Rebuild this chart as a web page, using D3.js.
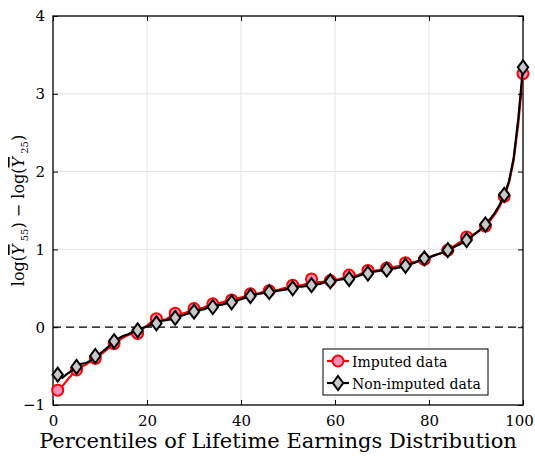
<!DOCTYPE html>
<html>
<head>
<meta charset="utf-8">
<script src="https://cdn.jsdelivr.net/npm/d3@7"></script>
<style>
  body { margin: 0; background: #fff; }
  text { font-family: "DejaVu Serif", serif; }
</style>
</head>
<body>
<div id="chart"></div>
<script>
// percentiles 1..100
percentiles = d3.range(1, 101)
// log(Y55) - log(Y25), imputed data (red circles)
imputed = [
  -0.81, -0.76, -0.68, -0.61, -0.55, -0.51, -0.48, -0.44, -0.40, -0.36,
  -0.31, -0.26, -0.21, -0.17, -0.13, -0.10, -0.08, -0.08, -0.02, 0.02,
  0.07, 0.11, 0.09, 0.10, 0.14, 0.18, 0.17, 0.18, 0.21, 0.24,
  0.24, 0.25, 0.28, 0.30, 0.30, 0.32, 0.34, 0.35, 0.37, 0.38,
  0.40, 0.43, 0.43, 0.44, 0.46, 0.47, 0.47, 0.48, 0.50, 0.51,
  0.54, 0.53, 0.54, 0.56, 0.62, 0.58, 0.58, 0.59, 0.60, 0.61,
  0.62, 0.64, 0.67, 0.66, 0.67, 0.70, 0.73, 0.72, 0.73, 0.74,
  0.76, 0.76, 0.78, 0.79, 0.83, 0.83, 0.84, 0.85, 0.87, 0.89,
  0.92, 0.94, 0.96, 0.99, 1.03, 1.07, 1.11, 1.16, 1.18, 1.21,
  1.25, 1.30, 1.37, 1.45, 1.55, 1.68, 1.85, 2.14, 2.62, 3.26
]
// non-imputed data (black diamonds)
nonImputed = [
  -0.61, -0.65, -0.60, -0.56, -0.51, -0.47, -0.46, -0.43, -0.37, -0.34,
  -0.29, -0.24, -0.18, -0.14, -0.11, -0.09, -0.06, -0.04, -0.01, 0.01,
  0.03, 0.05, 0.08, 0.09, 0.10, 0.12, 0.14, 0.16, 0.18, 0.20,
  0.22, 0.23, 0.25, 0.26, 0.28, 0.29, 0.31, 0.32, 0.34, 0.36,
  0.38, 0.40, 0.42, 0.43, 0.44, 0.45, 0.46, 0.47, 0.48, 0.49,
  0.50, 0.52, 0.52, 0.53, 0.54, 0.55, 0.56, 0.58, 0.59, 0.60,
  0.61, 0.62, 0.62, 0.64, 0.66, 0.68, 0.69, 0.71, 0.72, 0.73,
  0.74, 0.75, 0.76, 0.77, 0.79, 0.81, 0.83, 0.86, 0.885, 0.90,
  0.92, 0.94, 0.96, 0.99, 1.02, 1.05, 1.08, 1.12, 1.16, 1.21,
  1.26, 1.32, 1.39, 1.47, 1.57, 1.70, 1.87, 2.17, 2.68, 3.34
]
// percentiles that carry a marker
markerPercentiles = [1, 5, 9, 13, 18, 22, 26, 30, 34, 38, 42, 46, 51, 55, 59, 63, 67, 71, 75, 79, 84, 88, 92, 96, 100]
xTicks = [0, 20, 40, 60, 80, 100]
yTicks = [-1, 0, 1, 2, 3, 4]
seriesNames = ["Imputed data", "Non-imputed data"]

const W = 535, H = 456;
const margin = { top: 16, right: 12, bottom: 51, left: 53 };

const svg = d3.select("#chart").append("svg")
    .attr("width", W)
    .attr("height", H);

const xScale = d3.scaleLinear().domain([0, 100]).range([margin.left, W - margin.right]);
const yScale = d3.scaleLinear().domain([-1, 4]).range([H - margin.bottom, margin.top]);

const x0 = xScale.range()[0], x1 = xScale.range()[1];
const yb = yScale.range()[0], yt = yScale.range()[1];

// grid
svg.append("g").selectAll("line").data(xTicks.slice(1, -1)).join("line")
    .attr("x1", d => xScale(d)).attr("x2", d => xScale(d))
    .attr("y1", yt).attr("y2", yb)
    .attr("stroke", "#e3e3e3").attr("stroke-width", 1);
svg.append("g").selectAll("line").data(yTicks.slice(1, -1)).join("line")
    .attr("x1", x0).attr("x2", x1)
    .attr("y1", d => yScale(d)).attr("y2", d => yScale(d))
    .attr("stroke", "#e3e3e3").attr("stroke-width", 1);

// axes with inward ticks
function styleAxis(g) {
    g.select(".domain").remove();
    g.selectAll(".tick line").attr("stroke", "#000").attr("stroke-width", 1);
    g.selectAll(".tick text").attr("fill", "#000")
        .style("font-family", '"DejaVu Serif", serif').style("font-size", "15px");
}
svg.append("g").attr("transform", `translate(0,${yb})`)
    .call(d3.axisBottom(xScale).tickValues(xTicks).tickSize(-5).tickPadding(10).tickFormat(d3.format("d")))
    .call(styleAxis)
    .call(g => g.selectAll(".tick text").filter(d => d == 100).attr("dx", -4));
svg.append("g").attr("transform", `translate(0,${yt})`)
    .call(d3.axisTop(xScale).tickValues(xTicks).tickSize(-5).tickFormat(""))
    .call(styleAxis);
svg.append("g").attr("transform", `translate(${x0},0)`)
    .call(d3.axisLeft(yScale).tickValues(yTicks).tickSize(-5).tickPadding(8).tickFormat(d3.format("d")))
    .call(styleAxis);
svg.append("g").attr("transform", `translate(${x1},0)`)
    .call(d3.axisRight(yScale).tickValues(yTicks).tickSize(-5).tickFormat(""))
    .call(styleAxis);

// zero line
svg.append("line")
    .attr("x1", x0).attr("x2", x1)
    .attr("y1", yScale(0)).attr("y2", yScale(0))
    .attr("stroke", "#000").attr("stroke-width", 1.2)
    .attr("stroke-dasharray", "8,5");

// box
svg.append("rect")
    .attr("x", x0).attr("y", yt)
    .attr("width", x1 - x0).attr("height", yb - yt)
    .attr("fill", "none").attr("stroke", "#000").attr("stroke-width", 1.3);

const line = d3.line()
    .x((d, i) => xScale(percentiles[i]))
    .y(d => yScale(d));

svg.append("path").datum(imputed)
    .attr("fill", "none").attr("stroke", "#ff0000").attr("stroke-width", 2.2)
    .attr("d", line);

svg.selectAll(".circ").data(markerPercentiles).join("circle")
    .attr("class", "circ")
    .attr("cx", p => xScale(p))
    .attr("cy", p => yScale(imputed[p - 1]))
    .attr("r", 5.5)
    .attr("fill", "#f590bc").attr("stroke", "#ff0000").attr("stroke-width", 2);

svg.append("path").datum(nonImputed)
    .attr("fill", "none").attr("stroke", "#000").attr("stroke-width", 2.2)
    .attr("d", line);

const diamond = "M0,-7L5.2,0L0,7L-5.2,0Z";
svg.selectAll(".diam").data(markerPercentiles).join("path")
    .attr("class", "diam")
    .attr("transform", p => `translate(${xScale(p)},${yScale(nonImputed[p - 1])})`)
    .attr("d", diamond)
    .attr("fill", "#c8c8c8").attr("stroke", "#000").attr("stroke-width", 2);

// legend
const lg = svg.append("g").attr("transform", "translate(323,349)");
lg.append("rect").attr("width", 165).attr("height", 46)
    .attr("fill", "#fff").attr("stroke", "#000").attr("stroke-width", 1);
seriesNames.forEach(function (name, i) {
    const cy = 12 + i * 22;
    const row = lg.append("g").attr("transform", `translate(0,${cy})`);
    row.append("line").attr("x1", 4).attr("x2", 26).attr("y1", 0).attr("y2", 0)
        .attr("stroke", i == 0 ? "#ff0000" : "#000").attr("stroke-width", 2.2);
    if (i == 0) {
        row.append("circle").attr("cx", 15).attr("cy", 0).attr("r", 5.5)
            .attr("fill", "#f590bc").attr("stroke", "#ff0000").attr("stroke-width", 2);
    } else {
        row.append("path").attr("transform", "translate(15,0)").attr("d", diamond)
            .attr("fill", "#c8c8c8").attr("stroke", "#000").attr("stroke-width", 2);
    }
    row.append("text").attr("x", 29).attr("y", 5.5)
        .style("font-family", '"DejaVu Serif", serif').style("font-size", "14px")
        .text(name);
});

// x label
svg.append("text")
    .attr("x", (x0 + x1) / 2 - 10).attr("y", 448)
    .attr("text-anchor", "middle")
    .style("font-family", '"DejaVu Serif", serif').style("font-size", "21px")
    .text("Percentiles of Lifetime Earnings Distribution");

// y label
const yl = svg.append("text")
    .attr("transform", `translate(24,${(yt + yb) / 2}) rotate(-90)`)
    .attr("text-anchor", "middle")
    .style("font-family", '"DejaVu Serif", serif').style("font-size", "16px");
yl.append("tspan").text("log(");
yl.append("tspan").style("font-style", "italic").style("text-decoration", "overline").text("Y");
yl.append("tspan").attr("dy", 4).style("font-size", "10px").text(" 55");
yl.append("tspan").attr("dy", -4).text(") \u2212 log(");
yl.append("tspan").style("font-style", "italic").style("text-decoration", "overline").text("Y");
yl.append("tspan").attr("dy", 4).style("font-size", "10px").text(" 25");
yl.append("tspan").attr("dy", -4).text(")");
</script>
</body>
</html>
